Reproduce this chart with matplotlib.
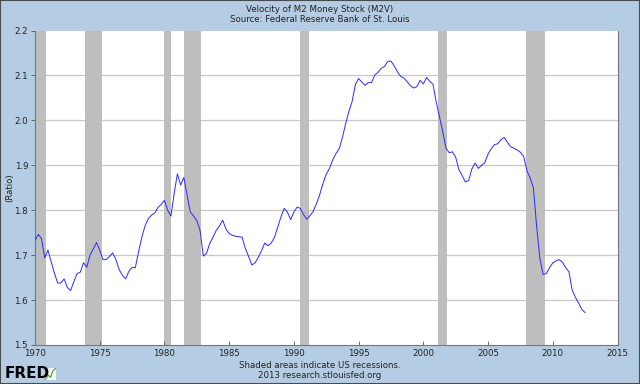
import matplotlib
matplotlib.use("Agg")
import matplotlib.pyplot as plt
import numpy as np

# Quarterly M2 velocity, 1970Q1 .. 2012Q3
start_year = 1970
v1970s = [1.733, 1.746, 1.737, 1.694,
          1.711, 1.685, 1.660, 1.638,
          1.638, 1.647, 1.628, 1.621,
          1.641, 1.659, 1.662, 1.683,
          1.673, 1.700, 1.714, 1.728,
          1.711, 1.690, 1.690, 1.697,
          1.705, 1.690, 1.668, 1.655,
          1.647, 1.664, 1.673, 1.672,
          1.708, 1.739, 1.765, 1.781,
          1.789, 1.794, 1.806, 1.813]
v1980s = [1.822, 1.800, 1.787, 1.837,
          1.881, 1.856, 1.873, 1.833,
          1.796, 1.787, 1.777, 1.755,
          1.698, 1.704, 1.726, 1.740,
          1.755, 1.765, 1.778, 1.758,
          1.748, 1.744, 1.742, 1.741,
          1.740, 1.715, 1.697, 1.678,
          1.683, 1.695, 1.710, 1.727,
          1.721, 1.727, 1.740, 1.762,
          1.785, 1.804, 1.796, 1.779]
v1990s = [1.796, 1.807, 1.804, 1.790,
          1.780, 1.788, 1.798, 1.815,
          1.835, 1.860, 1.880, 1.893,
          1.912, 1.926, 1.937, 1.962,
          1.993, 2.020, 2.042, 2.080,
          2.093, 2.085, 2.078, 2.084,
          2.084, 2.101, 2.107, 2.116,
          2.120, 2.131, 2.132, 2.121,
          2.108, 2.098, 2.094, 2.086,
          2.077, 2.072, 2.075, 2.089]
v2000s = [2.081, 2.095, 2.087, 2.080,
          2.040, 2.007, 1.975, 1.938,
          1.928, 1.930, 1.918, 1.890,
          1.877, 1.863, 1.866, 1.892,
          1.905, 1.893, 1.900, 1.906,
          1.925, 1.937, 1.946, 1.948,
          1.957, 1.962, 1.951, 1.941,
          1.938, 1.934, 1.929, 1.920,
          1.888, 1.872, 1.850, 1.765,
          1.693, 1.657, 1.659, 1.672]
v2010s = [1.683, 1.687, 1.690, 1.684,
          1.672, 1.663, 1.622, 1.606,
          1.593, 1.579, 1.572]
m2v = v1970s + v1980s + v1990s + v2000s + v2010s
dates = [start_year + i / 4 for i in range(len(m2v))]

rec_start = [1969.92, 1973.83, 1980.0, 1981.5, 1990.5, 2001.17, 2007.92]
rec_end = [1970.83, 1975.17, 1980.5, 1982.83, 1991.17, 2001.83, 2009.42]

x_ticks = list(range(1970, 2016, 5))
y_ticks = [1.5, 1.6, 1.7, 1.8, 1.9, 2.0, 2.1, 2.2]

bg = '#b4cde4'
fs = 6.2
tc = '#222222'
fig = plt.figure(figsize=(6.4, 3.84), dpi=100, facecolor=bg)
ax = fig.add_axes([35/640, 1-345/384, (617.5-35)/640, (345-30.5)/384])
ax.set_facecolor('white')

for s, e in zip(rec_start, rec_end):
    ax.axvspan(s, e, color='#bebebe', lw=0, zorder=1)

for y in y_ticks[1:-1]:
    ax.axhline(y, color='#c8c8c8', lw=0.9, zorder=0.5)

ax.plot(dates, m2v, color='#2a2aff', lw=0.7, zorder=3)

ax.set_xlim(1970, 2015)
ax.set_ylim(1.5, 2.2)
ax.set_xticks(x_ticks)
ax.set_xticklabels([str(t) for t in x_ticks])
ax.set_yticks(y_ticks)
ax.set_yticklabels([f"{t:.1f}" for t in y_ticks])
ax.tick_params(axis='x', direction='in', length=3, width=0.6, color='#555555',
               labelsize=fs, labelcolor=tc, pad=3)
ax.tick_params(axis='y', direction='out', length=3, width=0.6, color='#555555',
               labelsize=fs, labelcolor=tc, pad=2)
for side in ['left', 'bottom', 'right']:
    ax.spines[side].set_color('#777777')
    ax.spines[side].set_linewidth(0.8)
ax.spines['top'].set_visible(False)

fig.text(10/640, 1-188/384, '(Ratio)', rotation=90, ha='center', va='center',
         fontsize=fs, color=tc)

fig.text(0.5, 1-9/384, 'Velocity of M2 Money Stock (M2V)', ha='center', va='center',
         fontsize=fs, color=tc)
fig.text(0.5, 1-19/384, 'Source: Federal Reserve Bank of St. Louis', ha='center', va='center',
         fontsize=fs, color=tc)
fig.text(0.5, 1-365/384, 'Shaded areas indicate US recessions.', ha='center', va='center',
         fontsize=fs, color=tc)
fig.text(0.5, 1-375/384, '2013 research.stlouisfed.org', ha='center', va='center',
         fontsize=fs, color=tc)

fig.text(5/640, 1-373/384, 'FRED', ha='left', va='center', fontsize=11,
         fontweight='bold', color='black')
# small logo icon
iax = fig.add_axes([45/640, 1-380/384, 11/640, 12/384])
iax.set_facecolor('#f4f4f4')
iax.plot([0, 1, 2, 3, 4], [0.5, 1.5, 1.0, 2.5, 3.0], color='#4a9a3a', lw=0.8)
iax.set_xticks([]); iax.set_yticks([])
for sp in iax.spines.values():
    sp.set_visible(False)

# outer border
fig.patches.append(plt.Rectangle((0, 0), 1, 1, transform=fig.transFigure,
                                 fill=False, edgecolor='#4a4a4a', lw=1.5))

fig.savefig('out.png', dpi=100, facecolor=bg)
